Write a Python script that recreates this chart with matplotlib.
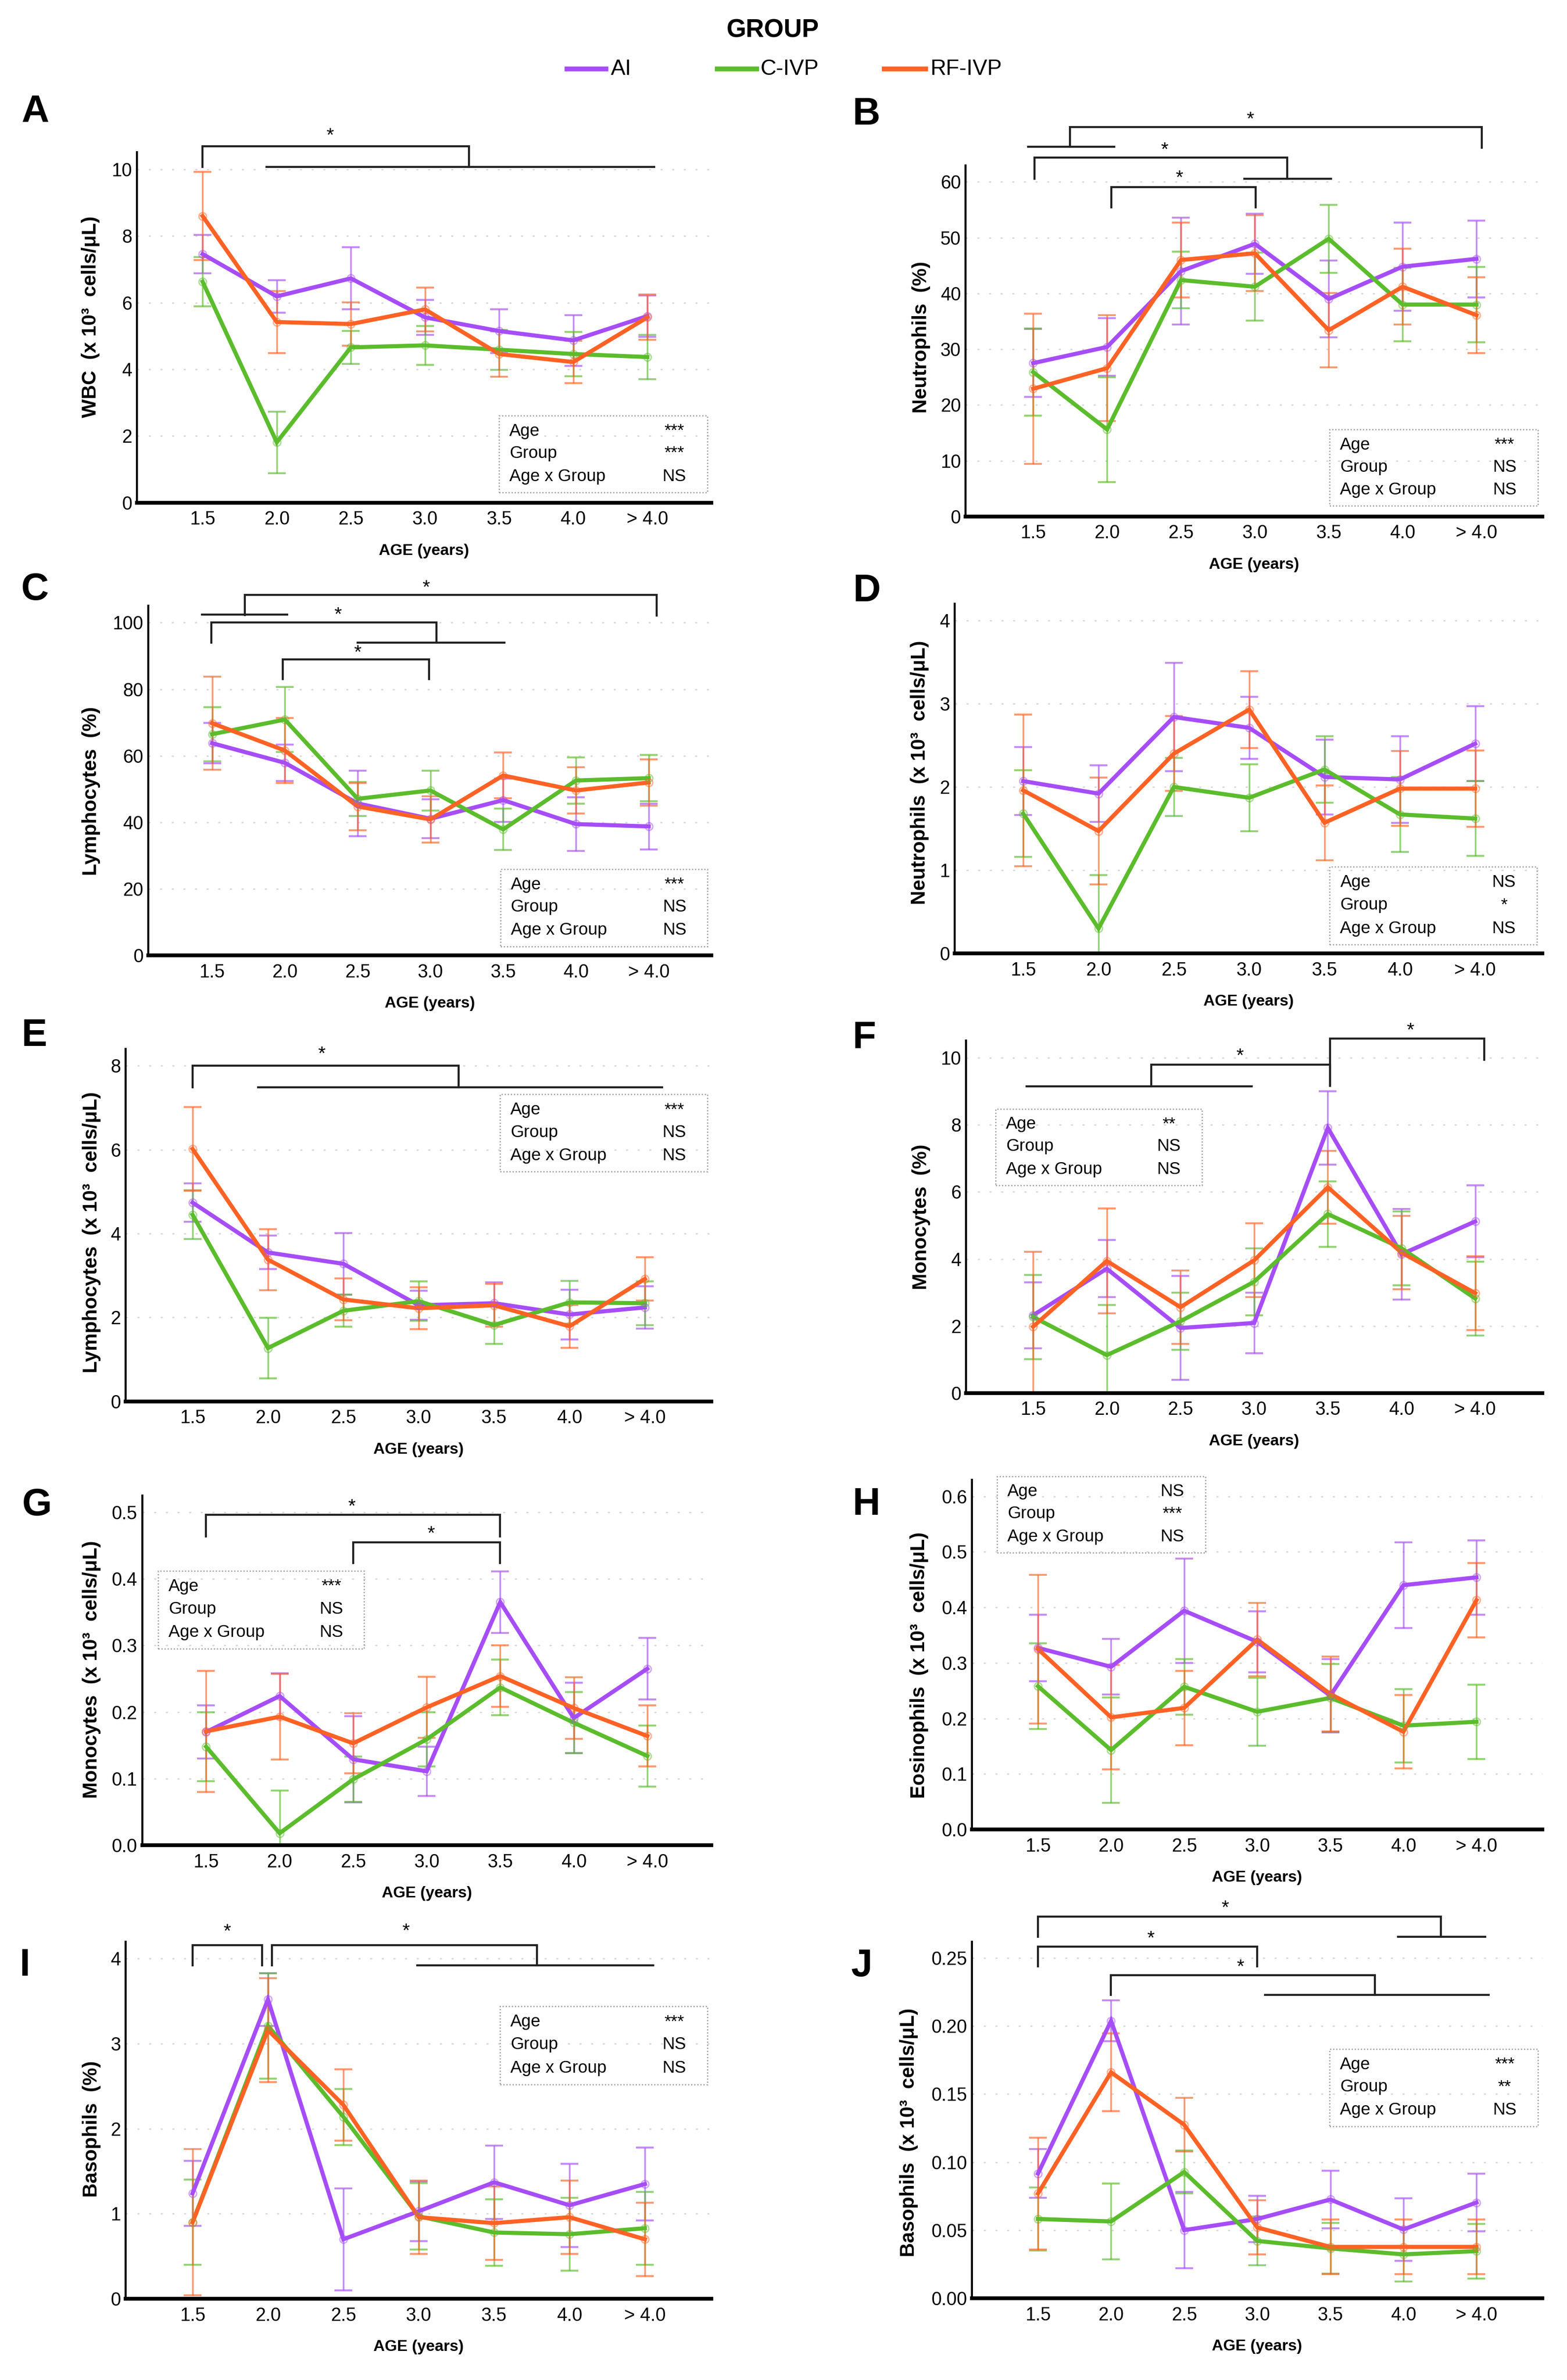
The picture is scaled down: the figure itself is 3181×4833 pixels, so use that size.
import matplotlib
matplotlib.use('Agg')
import matplotlib.pyplot as plt
from matplotlib.lines import Line2D
from matplotlib.patches import Rectangle

plt.rcParams['font.family'] = ['Liberation Sans', 'DejaVu Sans']

ages = ['1.5', '2.0', '2.5', '3.0', '3.5', '4.0', '> 4.0']
groups = ['AI', 'C-IVP', 'RF-IVP']
colors = ['#A64DF8', '#5BBC2C', '#FF6224']

# A - WBC (x10^3 cells/uL)
wbc_ai = [7.46, 6.19, 6.73, 5.56, 5.15, 4.87, 5.60]
wbc_ai_err = [0.58, 0.49, 0.93, 0.52, 0.66, 0.76, 0.62]
wbc_civp = [6.63, 1.81, 4.66, 4.72, 4.59, 4.46, 4.37]
wbc_civp_err = [0.74, 0.92, 0.50, 0.58, 0.60, 0.66, 0.66]
wbc_rfivp = [8.60, 5.42, 5.36, 5.80, 4.46, 4.22, 5.56]
wbc_rfivp_err = [1.32, 0.93, 0.65, 0.66, 0.68, 0.64, 0.68]

# B - Neutrophils (%)
neu_pct_ai = [27.5, 30.4, 44.0, 48.9, 39.0, 44.8, 46.2]
neu_pct_ai_err = [6.1, 5.2, 9.6, 5.4, 6.9, 7.9, 6.9]
neu_pct_civp = [25.9, 15.6, 42.4, 41.2, 49.8, 38.0, 38.0]
neu_pct_civp_err = [7.8, 9.4, 5.1, 6.1, 6.1, 6.6, 6.8]
neu_pct_rfivp = [22.9, 26.6, 46.0, 47.2, 33.4, 41.2, 36.1]
neu_pct_rfivp_err = [13.5, 9.5, 6.7, 6.8, 6.7, 6.8, 6.8]

# C - Lymphocytes (%)
lym_pct_ai = [63.8, 57.9, 45.7, 41.1, 46.7, 39.5, 38.8]
lym_pct_ai_err = [6.1, 5.5, 9.9, 5.8, 6.5, 8.1, 6.9]
lym_pct_civp = [66.5, 70.9, 47.1, 49.6, 37.9, 52.6, 53.3]
lym_pct_civp_err = [8.1, 9.8, 5.1, 6.0, 6.2, 7.0, 7.0]
lym_pct_rfivp = [69.8, 61.6, 44.8, 40.9, 54.1, 49.6, 52.0]
lym_pct_rfivp_err = [14.0, 9.8, 7.1, 7.0, 6.9, 7.0, 7.0]

# D - Neutrophils (x10^3 cells/uL)
neu_abs_ai = [2.07, 1.92, 2.84, 2.71, 2.12, 2.09, 2.52]
neu_abs_ai_err = [0.41, 0.34, 0.65, 0.37, 0.45, 0.52, 0.45]
neu_abs_civp = [1.68, 0.30, 2.00, 1.87, 2.21, 1.67, 1.62]
neu_abs_civp_err = [0.52, 0.64, 0.35, 0.40, 0.40, 0.45, 0.45]
neu_abs_rfivp = [1.96, 1.47, 2.40, 2.93, 1.57, 1.98, 1.98]
neu_abs_rfivp_err = [0.91, 0.64, 0.45, 0.46, 0.45, 0.45, 0.46]

# E - Lymphocytes (x10^3 cells/uL)
lym_abs_ai = [4.74, 3.55, 3.28, 2.29, 2.34, 2.07, 2.24]
lym_abs_ai_err = [0.46, 0.40, 0.73, 0.35, 0.50, 0.59, 0.50]
lym_abs_civp = [4.45, 1.27, 2.16, 2.39, 1.82, 2.36, 2.34]
lym_abs_civp_err = [0.58, 0.72, 0.38, 0.47, 0.45, 0.51, 0.52]
lym_abs_rfivp = [6.02, 3.38, 2.43, 2.22, 2.29, 1.79, 2.92]
lym_abs_rfivp_err = [1.00, 0.73, 0.50, 0.50, 0.51, 0.51, 0.52]

# F - Monocytes (%)
mono_pct_ai = [2.32, 3.71, 1.94, 2.09, 7.91, 4.14, 5.12]
mono_pct_ai_err = [0.98, 0.85, 1.55, 0.90, 1.09, 1.35, 1.07]
mono_pct_civp = [2.27, 1.13, 2.14, 3.32, 5.34, 4.32, 2.82]
mono_pct_civp_err = [1.26, 1.50, 0.85, 1.00, 0.98, 1.10, 1.10]
mono_pct_rfivp = [1.98, 3.94, 2.56, 3.96, 6.14, 4.19, 2.98]
mono_pct_rfivp_err = [2.23, 1.57, 1.09, 1.10, 1.09, 1.10, 1.10]

# G - Monocytes (x10^3 cells/uL)
mono_abs_ai = [0.170, 0.224, 0.129, 0.111, 0.365, 0.191, 0.265]
mono_abs_ai_err = [0.040, 0.034, 0.065, 0.037, 0.046, 0.053, 0.046]
mono_abs_civp = [0.148, 0.018, 0.099, 0.159, 0.237, 0.184, 0.134]
mono_abs_civp_err = [0.052, 0.064, 0.034, 0.041, 0.042, 0.046, 0.046]
mono_abs_rfivp = [0.171, 0.193, 0.153, 0.207, 0.254, 0.206, 0.164]
mono_abs_rfivp_err = [0.091, 0.064, 0.045, 0.046, 0.046, 0.046, 0.046]

# H - Eosinophils (x10^3 cells/uL)
eos_ai = [0.327, 0.293, 0.394, 0.338, 0.241, 0.440, 0.454]
eos_ai_err = [0.060, 0.050, 0.094, 0.055, 0.066, 0.077, 0.067]
eos_civp = [0.258, 0.143, 0.257, 0.212, 0.237, 0.187, 0.194]
eos_civp_err = [0.077, 0.095, 0.050, 0.061, 0.061, 0.066, 0.067]
eos_rfivp = [0.325, 0.202, 0.219, 0.342, 0.244, 0.176, 0.413]
eos_rfivp_err = [0.134, 0.094, 0.067, 0.066, 0.067, 0.066, 0.067]

# I - Basophils (%)
baso_pct_ai = [1.24, 3.52, 0.70, 1.03, 1.37, 1.10, 1.35]
baso_pct_ai_err = [0.38, 0.31, 0.60, 0.35, 0.43, 0.49, 0.43]
baso_pct_civp = [0.90, 3.21, 2.14, 0.97, 0.78, 0.76, 0.83]
baso_pct_civp_err = [0.50, 0.62, 0.33, 0.39, 0.39, 0.43, 0.43]
baso_pct_rfivp = [0.90, 3.16, 2.28, 0.96, 0.89, 0.96, 0.70]
baso_pct_rfivp_err = [0.86, 0.61, 0.42, 0.43, 0.43, 0.43, 0.43]

# J - Basophils (x10^3 cells/uL)
baso_abs_ai = [0.0917, 0.2038, 0.0501, 0.0583, 0.0726, 0.0506, 0.0704]
baso_abs_ai_err = [0.018, 0.015, 0.028, 0.017, 0.021, 0.023, 0.021]
baso_abs_civp = [0.0583, 0.0565, 0.0928, 0.0422, 0.0367, 0.0323, 0.0347]
baso_abs_civp_err = [0.023, 0.028, 0.0157, 0.018, 0.0187, 0.020, 0.020]
baso_abs_rfivp = [0.0770, 0.1660, 0.1275, 0.0521, 0.0378, 0.0378, 0.0378]
baso_abs_rfivp_err = [0.041, 0.0285, 0.0196, 0.020, 0.020, 0.020, 0.020]

stat_rows = ['Age', 'Group', 'Age x Group']

# brackets: ('b', x_left, x_right, y_top, y_low_left, y_low_right), ('l', x0, x1, y), ('s', x, y)
panels = [
    dict(letter='A', lxy=(0.0223, 0.9530), rect=[0.0873, 0.7888, 0.3666, 0.1473],
         xlim=(-0.888, 6.862), ylim=(0, 10.52), yticks=[0, 2, 4, 6, 8, 10], fmt='{:.0f}',
         ylabel='WBC  (x 10³  cells/μL)', ylab=(-0.080, 0.53),
         series=[(wbc_ai, wbc_ai_err), (wbc_civp, wbc_civp_err), (wbc_rfivp, wbc_rfivp_err)],
         stats=['***', '***', 'NS'], box=(4.0, 0.31, 6.81, 2.61),
         marks=[('b', 0, 3.59, 10.70, 10.07, 10.07), ('l', 0.86, 6.09, 10.07), ('s', 1.72, 11.0)]),
    dict(letter='B', lxy=(0.553, 0.9518), rect=[0.6162, 0.7830, 0.3680, 0.1475],
         xlim=(-0.915, 6.89), ylim=(0, 62.96), yticks=[0, 10, 20, 30, 40, 50, 60], fmt='{:.0f}',
         ylabel='Neutrophils  (%)', ylab=(-0.077, 0.51),
         series=[(neu_pct_ai, neu_pct_ai_err), (neu_pct_civp, neu_pct_civp_err),
                 (neu_pct_rfivp, neu_pct_rfivp_err)],
         stats=['***', 'NS', 'NS'], box=(4.01, 1.9, 6.83, 15.6),
         marks=[('b', 0.50, 6.07, 69.8, 66.3, 66.1), ('l', -0.07, 1.10, 66.3), ('s', 2.94, 71.1),
                ('b', 0.02, 3.44, 64.4, 60.6, 60.6), ('l', 2.86, 4.03, 60.6), ('s', 1.78, 65.7),
                ('b', 1.06, 3.01, 59.05, 55.4, 55.4), ('s', 1.98, 60.6)]),
    dict(letter='C', lxy=(0.0223, 0.7523), rect=[0.0946, 0.5985, 0.3593, 0.1470],
         xlim=(-0.878, 6.86), ylim=(0, 105.1), yticks=[0, 20, 40, 60, 80, 100], fmt='{:.0f}',
         ylabel='Lymphocytes  (%)', ylab=(-0.101, 0.47),
         series=[(lym_pct_ai, lym_pct_ai_err), (lym_pct_civp, lym_pct_civp_err),
                 (lym_pct_rfivp, lym_pct_rfivp_err)],
         stats=['***', 'NS', 'NS'], box=(3.96, 2.8, 6.81, 25.9),
         marks=[('b', 0.45, 6.11, 108.3, 102.3, 102.1), ('l', -0.14, 1.03, 102.5), ('s', 2.94, 110.4),
                ('b', -0.01, 3.08, 100.1, 94.0, 94.0), ('l', 2.0, 4.02, 94.0), ('s', 1.73, 102.3),
                ('b', 0.97, 2.98, 89.0, 83.0, 83.0), ('s', 2.0, 90.8)]),
    dict(letter='D', lxy=(0.5533, 0.7517), rect=[0.6092, 0.5994, 0.3750, 0.1469],
         xlim=(-0.91, 6.89), ylim=(0, 4.2), yticks=[0, 1, 2, 3, 4], fmt='{:.0f}',
         ylabel='Neutrophils  (x 10³  cells/μL)', ylab=(-0.059, 0.517),
         series=[(neu_abs_ai, neu_abs_ai_err), (neu_abs_civp, neu_abs_civp_err),
                 (neu_abs_rfivp, neu_abs_rfivp_err)],
         stats=['NS', '*', 'NS'], box=(4.07, 0.105, 6.82, 1.04), marks=[]),
    dict(letter='E', lxy=(0.0220, 0.5647), rect=[0.0802, 0.4112, 0.3737, 0.1480],
         xlim=(-0.887, 6.88), ylim=(0, 8.40), yticks=[0, 2, 4, 6, 8], fmt='{:.0f}',
         ylabel='Lymphocytes  (x 10³  cells/μL)', ylab=(-0.058, 0.48),
         series=[(lym_abs_ai, lym_abs_ai_err), (lym_abs_civp, lym_abs_civp_err),
                 (lym_abs_rfivp, lym_abs_rfivp_err)],
         stats=['***', 'NS', 'NS'], box=(4.08, 5.48, 6.83, 7.32),
         marks=[('b', 0, 3.53, 8.0, 7.49, 7.49), ('l', 0.87, 6.23, 7.49), ('s', 1.71, 8.27)]),
    dict(letter='F', lxy=(0.5517, 0.5638), rect=[0.6165, 0.4147, 0.3677, 0.1480],
         xlim=(-0.91, 6.91), ylim=(0, 10.51), yticks=[0, 2, 4, 6, 8, 10], fmt='{:.0f}',
         ylabel='Monocytes  (%)', ylab=(-0.078, 0.50),
         series=[(mono_pct_ai, mono_pct_ai_err), (mono_pct_civp, mono_pct_civp_err),
                 (mono_pct_rfivp, mono_pct_rfivp_err)],
         stats=['**', 'NS', 'NS'], box=(-0.51, 6.19, 2.29, 8.48),
         marks=[('b', 4.03, 6.12, 10.57, 9.17, 9.95), ('s', 5.12, 10.8),
                ('b', 1.60, 4.03, 9.80, 9.15, 9.17), ('l', -0.09, 2.97, 9.15), ('s', 2.81, 10.04)]),
    dict(letter='G', lxy=(0.0236, 0.3675), rect=[0.0908, 0.2247, 0.3631, 0.1469],
         xlim=(-0.868, 6.87), ylim=(0, 0.525), yticks=[0, 0.1, 0.2, 0.3, 0.4, 0.5], fmt='{:.1f}',
         ylabel='Monocytes  (x 10³  cells/μL)', ylab=(-0.089, 0.503),
         series=[(mono_abs_ai, mono_abs_ai_err), (mono_abs_civp, mono_abs_civp_err),
                 (mono_abs_rfivp, mono_abs_rfivp_err)],
         stats=['***', 'NS', 'NS'], box=(-0.65, 0.295, 2.15, 0.412),
         marks=[('b', 0, 4.0, 0.4965, 0.464, 0.464), ('s', 1.98, 0.508),
                ('b', 2.0, 4.0, 0.455, 0.424, 0.424), ('s', 3.06, 0.467)]),
    dict(letter='H', lxy=(0.553, 0.3677), rect=[0.6202, 0.2313, 0.3640, 0.1470],
         xlim=(-0.905, 6.90), ylim=(0, 0.630), yticks=[0, 0.1, 0.2, 0.3, 0.4, 0.5, 0.6], fmt='{:.1f}',
         ylabel='Eosinophils  (x 10³  cells/μL)', ylab=(-0.092, 0.47),
         series=[(eos_ai, eos_ai_err), (eos_civp, eos_civp_err), (eos_rfivp, eos_rfivp_err)],
         stats=['NS', '***', 'NS'], box=(-0.56, 0.4985, 2.29, 0.636), marks=[]),
    dict(letter='I', lxy=(0.016, 0.1742), rect=[0.0802, 0.0341, 0.3737, 0.1501],
         xlim=(-0.887, 6.88), ylim=(0, 4.20), yticks=[0, 1, 2, 3, 4], fmt='{:.0f}',
         ylabel='Basophils  (%)', ylab=(-0.058, 0.475),
         series=[(baso_pct_ai, baso_pct_ai_err), (baso_pct_civp, baso_pct_civp_err),
                 (baso_pct_rfivp, baso_pct_rfivp_err)],
         stats=['***', 'NS', 'NS'], box=(4.08, 2.52, 6.83, 3.44),
         marks=[('b', 0, 0.92, 4.16, 3.92, 3.92), ('s', 0.46, 4.31),
                ('b', 1.05, 4.57, 4.16, 3.92, 3.92), ('l', 2.98, 6.11, 3.92), ('s', 2.83, 4.32)]),
    dict(letter='J', lxy=(0.5501, 0.1740), rect=[0.6202, 0.0343, 0.3640, 0.1499],
         xlim=(-0.905, 6.90), ylim=(0, 0.262), yticks=[0, 0.05, 0.10, 0.15, 0.20, 0.25], fmt='{:.2f}',
         ylabel='Basophils  (x 10³  cells/μL)', ylab=(-0.11, 0.465),
         series=[(baso_abs_ai, baso_abs_ai_err), (baso_abs_civp, baso_abs_civp_err),
                 (baso_abs_rfivp, baso_abs_rfivp_err)],
         stats=['***', '**', 'NS'], box=(3.99, 0.1264, 6.84, 0.183),
         marks=[('b', 0, 5.51, 0.2803, 0.2654, 0.2654), ('l', 4.93, 6.12, 0.2654), ('s', 2.56, 0.2865),
                ('b', 0, 3.0, 0.2584, 0.244, 0.244), ('s', 1.54, 0.2639),
                ('b', 1.0, 4.61, 0.2375, 0.2227, 0.2227), ('l', 3.11, 6.17, 0.2227), ('s', 2.77, 0.243)]),
]

W, H = 3181, 4833
fig = plt.figure(figsize=(W / 100, H / 100), dpi=100)

x = list(range(len(ages)))
for p in panels:
    ax = fig.add_axes(p['rect'])
    for (means, errs), c in zip(p['series'], colors):
        ax.errorbar(x, means, yerr=errs, fmt='none', ecolor=c, elinewidth=2.5,
                    capsize=13, capthick=2.8, alpha=0.65, zorder=2)
    for (means, errs), c in zip(p['series'], colors):
        ax.plot(x, means, color=c, lw=6, zorder=3, solid_joinstyle='miter')
        ax.plot(x, means, 'o', ms=11, mfc='none', mec=c, mew=2, alpha=0.5, zorder=4)

    ax.set_xlim(*p['xlim'])
    ax.set_ylim(*p['ylim'])
    ax.set_xticks(x)
    ax.set_xticklabels(ages)
    ax.set_yticks(p['yticks'])
    ax.set_yticklabels([p['fmt'].format(v) for v in p['yticks']])
    ax.tick_params(axis='both', length=0, labelsize=27)
    ax.tick_params(axis='x', pad=12)
    ax.tick_params(axis='y', pad=7)
    for v in p['yticks'][1:]:
        ax.axhline(v, color='#d8d8d8', lw=2, ls=(0, (1.5, 7)), zorder=0)
    for s in ['top', 'right']:
        ax.spines[s].set_visible(False)
    ax.spines['left'].set_linewidth(3)
    ax.spines['bottom'].set_linewidth(5.5)
    ax.set_facecolor('none')

    h_px = p['rect'][3] * H
    ax.text(0.5, -98 / h_px, 'AGE (years)', transform=ax.transAxes, ha='center', va='center',
            fontsize=23, fontweight='bold')
    ax.text(p['ylab'][0], p['ylab'][1], p['ylabel'], transform=ax.transAxes, rotation=90,
            ha='center', va='center', fontsize=29, fontweight='bold')

    # stats box
    x0, y0, x1, y1 = p['box']
    ax.add_patch(Rectangle((x0, y0), x1 - x0, y1 - y0, fill=False, ec='#9a9a9a', lw=1.8,
                           ls=(0, (1, 1.5)), clip_on=False, zorder=5))
    for frac, name, val in zip([0.80, 0.51, 0.21], stat_rows, p['stats']):
        yy = y0 + frac * (y1 - y0)
        ax.text(x0 + 0.05 * (x1 - x0), yy, name, ha='left', va='center', fontsize=25, zorder=6)
        ax.text(x0 + 0.84 * (x1 - x0), yy, val, ha='center', va='center', fontsize=25, zorder=6)

    # significance brackets
    for m in p['marks']:
        if m[0] == 'b':
            _, xl, xr, yt, yl, yr = m
            ax.plot([xl, xl, xr, xr], [yl, yt, yt, yr], color='#222222', lw=3,
                    clip_on=False, zorder=6, solid_joinstyle='miter')
        elif m[0] == 'l':
            _, xa, xb, yy = m
            ax.plot([xa, xb], [yy, yy], color='#222222', lw=3, clip_on=False, zorder=6)
        else:
            _, xs, ys = m
            ax.text(xs, ys, '*', ha='center', va='center', fontsize=28, clip_on=False, zorder=6)

    fig.text(p['lxy'][0], p['lxy'][1], p['letter'], ha='center', va='center',
             fontsize=56, fontweight='bold')

# legend
fig.text(0.4932, 0.9872, 'GROUP', ha='center', va='center', fontsize=37, fontweight='bold')
leg_lines = [(0.3618, 0.3867, 0.3898), (0.4577, 0.4829, 0.4854), (0.5643, 0.5907, 0.5935)]
for (xa, xb, xt), c, g in zip(leg_lines, colors, groups):
    fig.add_artist(Line2D([xa, xb], [0.9710, 0.9710], color=c, lw=7, transform=fig.transFigure))
    fig.text(xt, 0.9710, g, ha='left', va='center', fontsize=32)

fig.savefig('out.png', dpi=100, facecolor='white')
